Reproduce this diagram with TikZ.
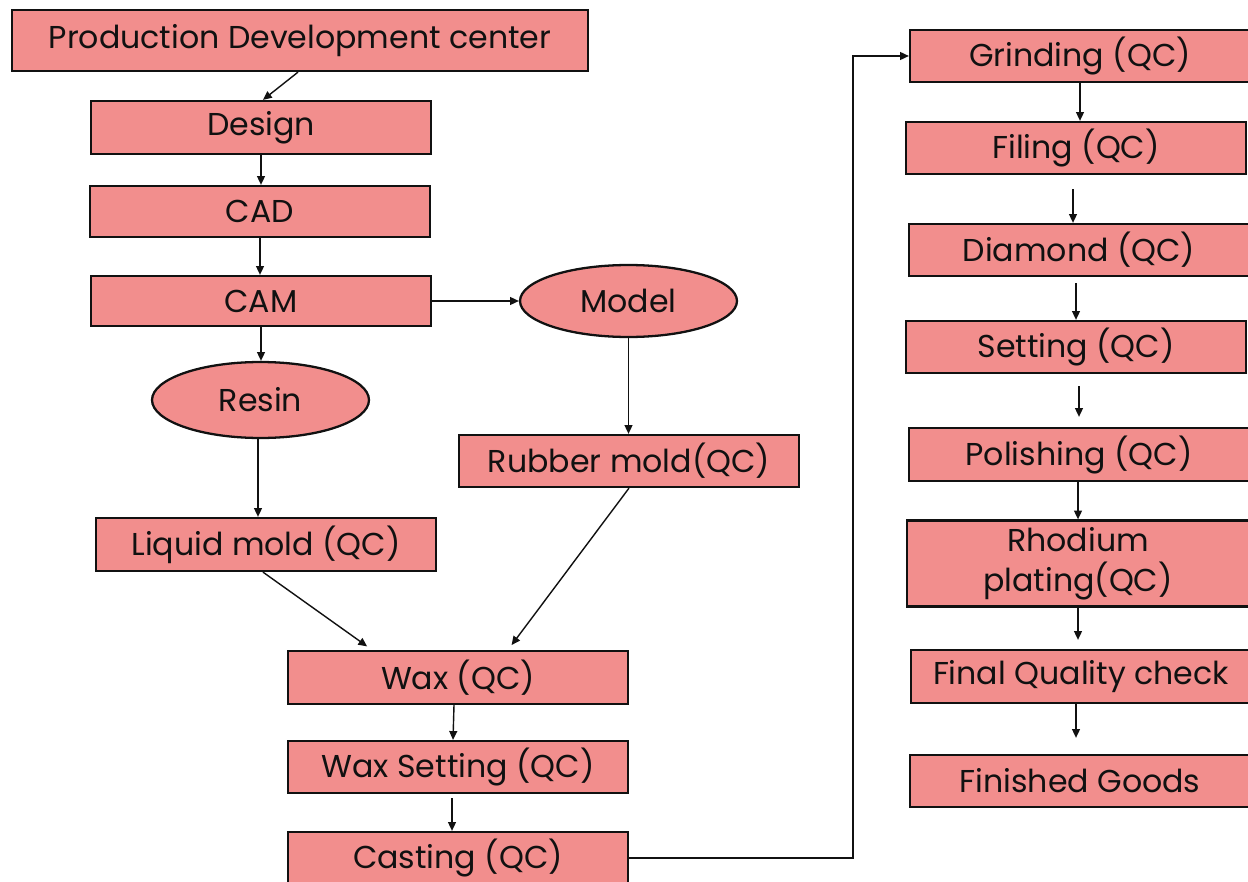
\documentclass[tikz,border=0pt]{standalone}
\usepackage{fontspec}
\setmainfont{Poppins}
\usetikzlibrary{arrows.meta,shapes.geometric,calc}
\definecolor{boxfill}{HTML}{F28E8D}
\definecolor{ink}{HTML}{111111}
\tikzset{
  proc/.style={draw=ink, line width=1.3pt, fill=boxfill, rectangle, minimum width=6.8cm, minimum height=1.04cm, inner sep=0pt, font=\fontsize{18}{22.5}\selectfont, text=ink, align=center},
  oval/.style={draw=ink, line width=1.3pt, fill=boxfill, ellipse, inner sep=0pt, font=\fontsize{18}{22.5}\selectfont, text=ink},
  arr/.style={draw=ink, line width=0.8pt, -{Triangle[length=5pt,width=4.5pt]}}
}
\begin{document}
\begin{tikzpicture}[x=0.02cm, y=-0.02cm]
\useasboundingbox (0,0) rectangle (1248,882);
\clip (0,0) rectangle (1248,882);
% left column
\node[proc, minimum width=11.52cm, minimum height=1.22cm] (pdc) at (300,40.5) {Production Development center};
\node[proc, minimum height=1.06cm] (design) at (261,127.5) {Design};
\node[proc, minimum height=1.02cm] (cad) at (260,211.5) {CAD};
\node[proc, minimum height=1.0cm] (cam) at (261,301) {CAM};
\node[oval, minimum width=4.34cm, minimum height=1.44cm] (model) at (628.5,301) {Model};
\node[oval, minimum width=4.34cm, minimum height=1.52cm] (resin) at (260.5,400) {Resin};
\node[proc, minimum height=1.04cm] (rubber) at (629,461) {Rubber mold(QC)};
\node[proc, minimum height=1.06cm] (liquid) at (266,544.5) {Liquid mold (QC)};
\node[proc, minimum height=1.06cm] (wax) at (458,677.5) {Wax (QC)};
\node[proc, minimum height=1.04cm] (waxset) at (458,767) {Wax Setting (QC)};
\node[proc, minimum height=1.04cm] (casting) at (458,858) {Casting (QC)};
% right column
\node[proc] (grinding) at (1080,56) {Grinding (QC)};
\node[proc] (filing) at (1076,148) {Filing (QC)};
\node[proc] (diamond) at (1079,250) {Diamond (QC)};
\node[proc] (setting) at (1076,347) {Setting (QC)};
\node[proc, minimum height=1.06cm] (polishing) at (1079,454.5) {Polishing (QC)};
\node[proc, minimum width=6.84cm, minimum height=1.72cm] (rhodium) at (1078,563.5) {Rhodium\\plating(QC)};
\node[proc, minimum height=1.06cm] (final) at (1081,676.5) {Final Quality check};
\node[proc] (finished) at (1080,781) {Finished Goods};
% connectors
\draw[arr] ([xshift=-0.04cm]pdc.south) -- ([xshift=0.04cm]design.north);
\draw[arr] (design.south) -- (design.south |- cad.north);
\draw[arr] (cad.south) -- (cad.south |- cam.north);
\draw[arr] (cam.south) -- (cam.south |- resin.north);
\draw[arr] (cam.east) -- (model.west);
\draw[arr] ([xshift=-0.05cm]resin.south) -- ([xshift=-0.05cm]resin.south |- liquid.north);
\draw[arr] (model.south) -- (model.south |- rubber.north);
\draw[arr, shorten >=0.12cm] ([xshift=-0.06cm]liquid.south) -- ([xshift=-1.72cm]wax.north);
\draw[arr, shorten >=0.12cm] (rubber.south) -- ([xshift=1.0cm]wax.north);
\draw[arr] ([xshift=-0.08cm]wax.south) -- ([xshift=-0.1cm]waxset.north);
\draw[arr, shorten <=0.08cm] ([xshift=-0.12cm]waxset.south) -- ([xshift=-0.12cm]waxset.south |- casting.north);
\draw[arr] (casting.east) -- ([xshift=-1.12cm]casting.east -| grinding.west) |- (grinding.west);
\draw[arr] (grinding.south) -- (grinding.south |- filing.north);
\draw[arr, shorten <=0.28cm] ([xshift=-0.06cm]filing.south) -- ([xshift=-0.06cm]filing.south |- diamond.north);
\draw[arr, shorten <=0.12cm] ([xshift=-0.06cm]diamond.south) -- ([xshift=-0.06cm]diamond.south |- setting.north);
\draw[arr, shorten <=0.24cm, shorten >=0.2cm] ([xshift=0.06cm]setting.south) -- ([xshift=0.06cm]setting.south |- polishing.north);
\draw[arr] ([xshift=-0.02cm]polishing.south) -- ([xshift=-0.02cm]polishing.south |- rhodium.north);
\draw[arr, shorten >=0.18cm] (rhodium.south) -- (rhodium.south |- final.north);
\draw[arr, shorten >=0.32cm] ([xshift=-0.1cm]final.south) -- ([xshift=-0.1cm]final.south |- finished.north);
\end{tikzpicture}
\end{document}
